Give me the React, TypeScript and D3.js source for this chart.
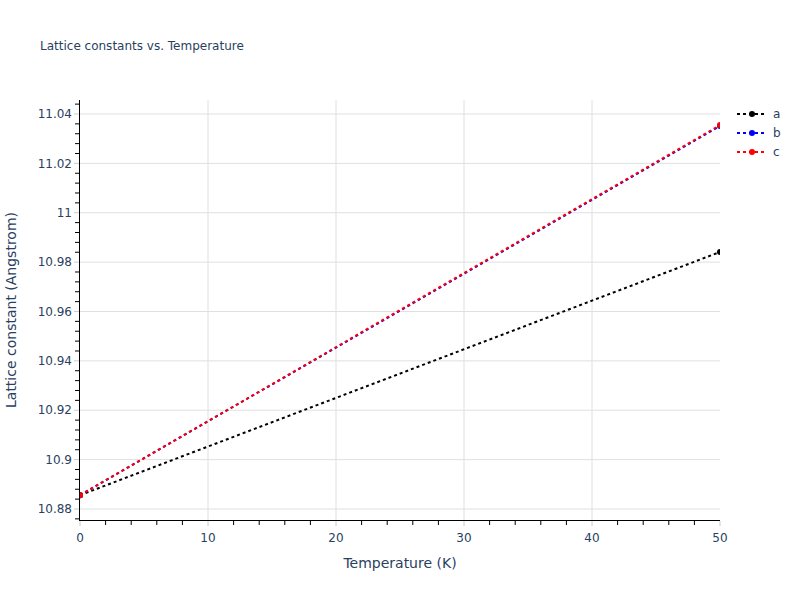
import React from "react";
import * as d3 from "d3";

const temperatures = [0, 50];
const seriesA = [10.8856, 10.9841];
const seriesB = [10.8856, 11.0351];
const seriesC = [10.8856, 11.0355];
const seriesNames = ["a", "b", "c"];
const seriesColors = ["#000000", "#0000ff", "#ff0000"];
const xTicks = [0, 10, 20, 30, 40, 50];
const yTicks = [10.88, 10.9, 10.92, 10.94, 10.96, 10.98, 11, 11.02, 11.04];
const titleText = "Lattice constants vs. Temperature";
const xTitle = "Temperature (K)";
const yTitle = "Lattice constant (Angstrom)";

const W = 800, H = 600;
const L = 80, R = 720, T = 100, B = 520;
const textColor = "#2a3f5f";
const font = "'DejaVu Sans', Verdana, sans-serif";

export default function App() {
  const x = d3.scaleLinear().domain([0, 50]).range([L, R]);
  const y = d3.scaleLinear().domain([10.87554, 11.04567]).range([B, T]);
  const series = [seriesA, seriesB, seriesC];
  const line = d3.line<number>().x((_, i) => x(temperatures[i])).y((d) => y(d));

  const xMinor = d3.range(0, 50.001, 2).filter((v) => Math.abs(v % 10) > 1e-6);
  const yMinor = d3.range(10.876, 11.0455, 0.004).filter(
    (v) => !yTicks.some((t) => Math.abs(t - v) < 1e-6)
  );

  return (
    <svg width={W} height={H} style={{ position: "absolute", left: 0, top: 0 }}>
      <rect width={W} height={H} fill="#fff" />
      <defs>
        <clipPath id="plot">
          <rect x={L} y={T} width={R - L} height={B - T} />
        </clipPath>
      </defs>
      <text x={40} y={50} fontFamily={font} fontSize={12} fill={textColor}>{titleText}</text>
      {/* grid */}
      {yTicks.map((t) => (
        <line key={"gy" + t} x1={L} x2={R} y1={y(t)} y2={y(t)} stroke="#e0e0e0" strokeWidth={1} />
      ))}
      {xTicks.filter((t) => t > 0 && t < 50).map((t) => (
        <line key={"gx" + t} x1={x(t)} x2={x(t)} y1={T} y2={B} stroke="#e0e0e0" strokeWidth={1} />
      ))}
      {/* series */}
      <g clipPath="url(#plot)">
        {series.map((s, i) => (
          <g key={i}>
            <path d={line(s) || ""} fill="none" stroke={seriesColors[i]} strokeWidth={2} strokeDasharray="3,3" />
            {s.map((v, j) => (
              <circle key={j} cx={x(temperatures[j])} cy={y(v)} r={3} fill={seriesColors[i]} />
            ))}
          </g>
        ))}
      </g>
      {/* axes lines */}
      <line x1={L - 0.5} x2={L - 0.5} y1={T} y2={B} stroke="#000" strokeWidth={1} />
      <line x1={L - 1} x2={R} y1={B + 0.5} y2={B + 0.5} stroke="#000" strokeWidth={1} />
      {/* major ticks */}
      {xTicks.map((t) => (
        <line key={"tx" + t} x1={x(t)} x2={x(t)} y1={B + 1} y2={B + 6} stroke="#cccccc" strokeWidth={1} />
      ))}
      {yTicks.map((t) => (
        <line key={"ty" + t} x1={L - 1} x2={L - 6} y1={y(t)} y2={y(t)} stroke="#cccccc" strokeWidth={1} />
      ))}
      {/* minor ticks */}
      {xMinor.map((t) => (
        <line key={"mx" + t} x1={x(t)} x2={x(t)} y1={B + 1} y2={B + 5} stroke="#000" strokeWidth={1} />
      ))}
      {yMinor.map((t) => (
        <line key={"my" + t} x1={L - 1} x2={L - 5} y1={y(t)} y2={y(t)} stroke="#000" strokeWidth={1} />
      ))}
      {/* tick labels */}
      {xTicks.map((t) => (
        <text key={"lx" + t} x={x(t)} y={B + 22} textAnchor="middle" fontFamily={font} fontSize={12} fill={textColor}>{t}</text>
      ))}
      {yTicks.map((t) => (
        <text key={"ly" + t} x={L - 8} y={y(t)} dy="0.35em" textAnchor="end" fontFamily={font} fontSize={12} fill={textColor}>{d3.format("~g")(t)}</text>
      ))}
      {/* axis titles */}
      <text x={(L + R) / 2} y={568} textAnchor="middle" fontFamily={font} fontSize={14} fill={textColor}>{xTitle}</text>
      <text transform={`translate(16,${(T + B) / 2}) rotate(-90)`} textAnchor="middle" fontFamily={font} fontSize={14} fill={textColor}>{yTitle}</text>
      {/* legend */}
      {seriesNames.map((n, i) => {
        const ly = 114 + i * 19;
        return (
          <g key={n}>
            <line x1={737} x2={767} y1={ly} y2={ly} stroke={seriesColors[i]} strokeWidth={2} strokeDasharray="3,3" />
            <circle cx={752} cy={ly} r={3} fill={seriesColors[i]} />
            <text x={773} y={ly} dy="0.35em" fontFamily={font} fontSize={12} fill={textColor}>{n}</text>
          </g>
        );
      })}
    </svg>
  );
}
